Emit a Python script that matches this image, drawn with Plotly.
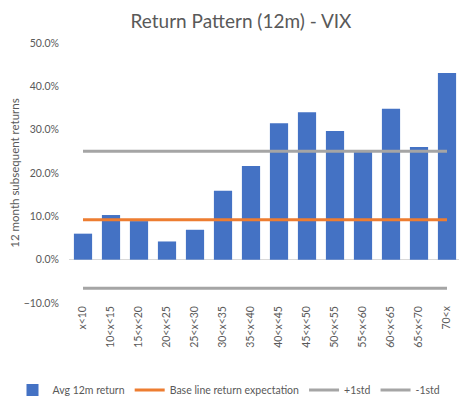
import plotly.graph_objects as go

categories = ["x<10", "10<x<15", "15<x<20", "20<x<25", "25<x<30", "30<x<35", "35<x<40",
              "40<x<45", "45<x<50", "50<x<55", "55<x<60", "60<x<65", "65<x<70", "70<x"]
avg_return = [0.060, 0.103, 0.089, 0.042, 0.069, 0.159, 0.216,
              0.315, 0.340, 0.297, 0.249, 0.348, 0.260, 0.431]
base_line = [0.092, 0.092, 0.092, 0.092, 0.092, 0.092, 0.092,
             0.092, 0.092, 0.092, 0.092, 0.092, 0.092, 0.092]
plus_std = [0.250, 0.250, 0.250, 0.250, 0.250, 0.250, 0.250,
            0.250, 0.250, 0.250, 0.250, 0.250, 0.250, 0.250]
minus_std = [-0.066, -0.066, -0.066, -0.066, -0.066, -0.066, -0.066,
             -0.066, -0.066, -0.066, -0.066, -0.066, -0.066, -0.066]
y_ticks = [-0.1, 0.0, 0.1, 0.2, 0.3, 0.4, 0.5]

FONT = "Lato"
TXT = "#595959"
W, H = 467, 397

fig = go.Figure()
fig.add_trace(go.Bar(x=categories, y=avg_return, name="Avg 12m return",
                     marker=dict(color="#4472C4", line=dict(width=0))))
fig.add_trace(go.Scatter(x=categories, y=base_line, name="Base line return expectation",
                         mode="lines", line=dict(color="#ED7D31", width=3)))
fig.add_trace(go.Scatter(x=categories, y=plus_std, name="+1std",
                         mode="lines", line=dict(color="#A5A5A5", width=3)))
fig.add_trace(go.Scatter(x=categories, y=minus_std, name="-1std",
                         mode="lines", line=dict(color="#A5A5A5", width=3)))

fig.update_layout(
    width=W, height=H,
    margin=dict(l=0, r=0, t=0, b=0, autoexpand=False),
    paper_bgcolor="white", plot_bgcolor="white",
    font=dict(family=FONT, color=TXT, size=10),
    title=dict(text="Return Pattern (12m) - VIX", x=233 / W, xanchor="center",
               xref="paper", y=1 - 13 / H, yanchor="middle", yref="paper",
               font=dict(family=FONT, size=19, color=TXT)),
    bargap=0.35,
    showlegend=True,
    legend=dict(orientation="h", x=221 / W, xanchor="center", y=1 - 382 / H, yanchor="middle",
                font=dict(family=FONT, size=10.5, color=TXT), traceorder="normal",
                itemwidth=30, tracegroupgap=0),
    xaxis=dict(type="category", tickangle=-90, showgrid=False, showline=False,
               domain=[61 / W, 453 / W], automargin=False,
               ticks="", tickfont=dict(family=FONT, size=10.5, color=TXT)),
    yaxis=dict(range=[-0.1, 0.5], tickvals=y_ticks, tickformat=".1%",
               domain=[1 - 295 / H, 1 - 35 / H], automargin=False,
               showgrid=False, zeroline=True, zerolinecolor="#D9D9D9", zerolinewidth=1,
               showline=False, ticks="outside", ticklen=7, tickcolor="white",
               tickfont=dict(family=FONT, size=10.5, color=TXT),
               title=dict(text="12 month subsequent returns", standoff=8,
                          font=dict(family=FONT, size=11.5, color=TXT))),
)

fig.write_html("out.html")
